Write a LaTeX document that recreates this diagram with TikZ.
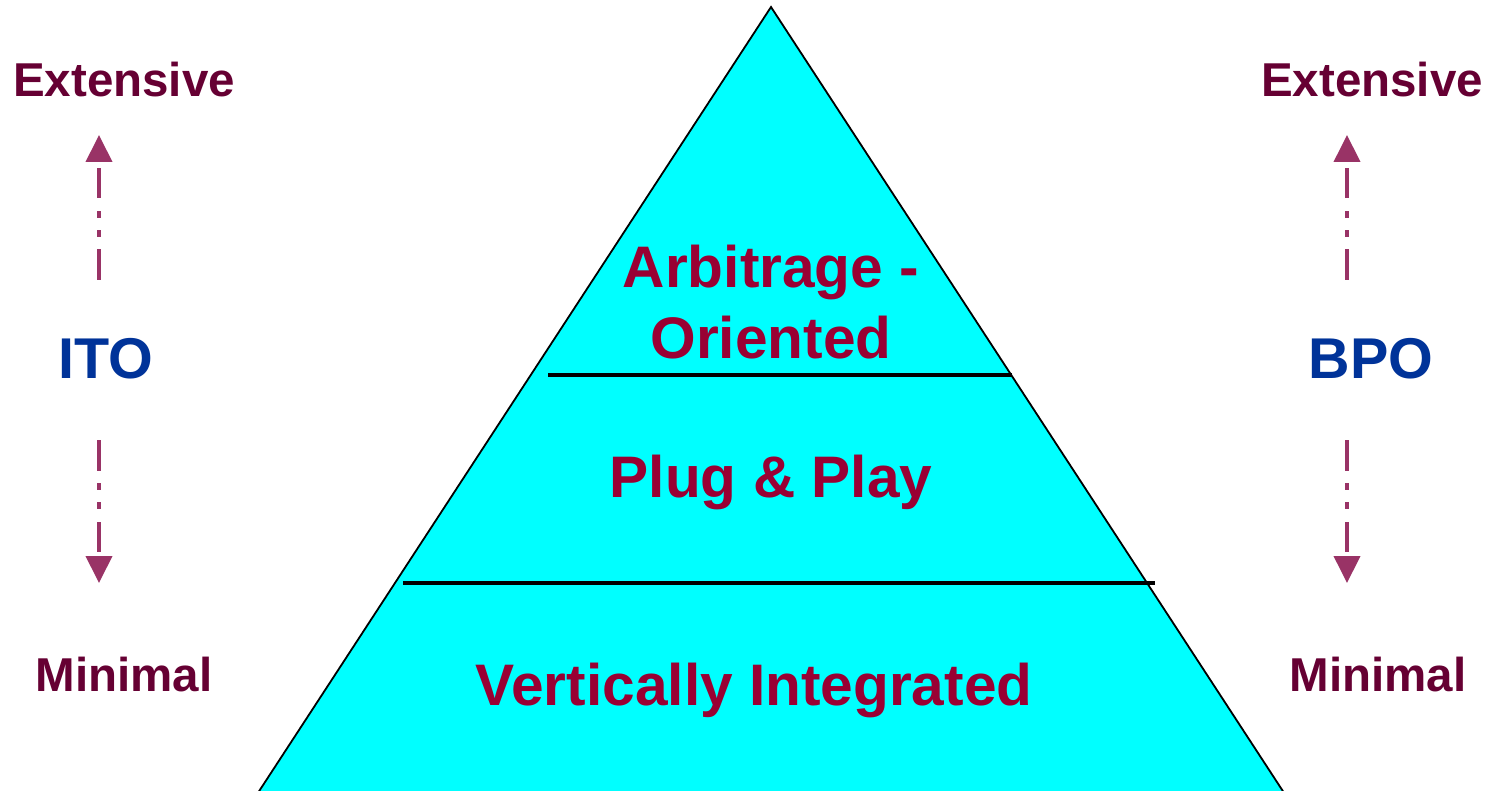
\documentclass[tikz,border=0pt]{standalone}
\usepackage{fontspec}
\setmainfont{Liberation Sans}
\usetikzlibrary{arrows.meta}
\definecolor{pyrcyan}{RGB}{0,255,255}
\definecolor{tiertext}{RGB}{153,0,51}
\definecolor{scaletext}{RGB}{102,0,51}
\definecolor{scalearrow}{RGB}{153,51,102}
\definecolor{sidetext}{RGB}{0,51,153}
\begin{document}
\begin{tikzpicture}[x=1pt,y=-1pt,every node/.style={inner sep=0pt, outer sep=0pt, anchor=base},
  tier/.style={text=tiertext, font=\fontsize{58.6}{60}\selectfont\bfseries},
  side/.style={text=sidetext, font=\fontsize{57.5}{60}\selectfont\bfseries},
  scalelabel/.style={text=scaletext, font=\fontsize{47.5}{50}\selectfont\bfseries},
  divider/.style={line width=4pt},
  scalearrow/.style={draw=scalearrow, line width=4pt, dash pattern=on 31pt off 12pt on 7pt off 12pt on 7pt off 13pt on 30pt off 20pt, -{Triangle[width=26pt,length=27pt]}}]
\useasboundingbox (0,0) rectangle (1487,791);
\clip (0,0) rectangle (1487,791);
% pyramid and its tiers
\draw[fill=pyrcyan, line width=1.8pt] (771,7) -- (1290,802) -- (252,802) -- cycle;
\draw[divider] (548,375) -- (1012,375);
\draw[divider] (403,583) -- (1155,583);
\node[tier] (arb) at (771,288) {Arbitrage -};
\node[tier] (ori) at (771,358) {Oriented};
\node[tier] (plug) at (771,497) {Plug \& Play};
\node[tier] (vert) at (754,705) {Vertically Integrated};
% left scale
\node[scalelabel] (extL) at (124,97) {Extensive};
\node[side] (ito) at (106,378) {ITO};
\node[scalelabel] (minL) at (124,691) {Minimal};
\coordinate (itoUpFrom) at (99,280);
\coordinate (itoUpTo) at (99,135);
\coordinate (itoDnFrom) at (99,440);
\coordinate (itoDnTo) at (99,583);
\draw[scalearrow] (itoUpFrom) -- (itoUpTo);
\draw[scalearrow] (itoDnFrom) -- (itoDnTo);
% right scale
\node[scalelabel] (extR) at (1372,97) {Extensive};
\node[side] (bpo) at (1371,378) {BPO};
\node[scalelabel] (minR) at (1378,691) {Minimal};
\coordinate (bpoUpFrom) at (1347,280);
\coordinate (bpoUpTo) at (1347,135);
\coordinate (bpoDnFrom) at (1347,440);
\coordinate (bpoDnTo) at (1347,583);
\draw[scalearrow] (bpoUpFrom) -- (bpoUpTo);
\draw[scalearrow] (bpoDnFrom) -- (bpoDnTo);
\end{tikzpicture}
\end{document}
